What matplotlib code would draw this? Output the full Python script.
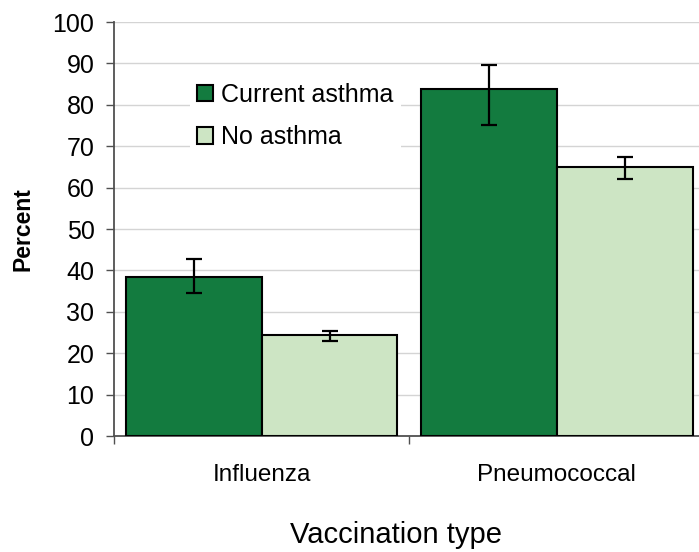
import numpy as np
import matplotlib
matplotlib.use("Agg")
import matplotlib.pyplot as plt

plt.rcParams['font.family'] = ['Liberation Sans', 'DejaVu Sans']

# Data
categories = ['Influenza', 'Pneumococcal']
asthma = [38.4, 83.8]
asthma_lo = [34.6, 75.2]
asthma_hi = [42.8, 89.7]
no_asthma = [24.5, 65.0]
no_asthma_lo = [23.0, 62.1]
no_asthma_hi = [25.5, 67.4]

dark = '#137B3F'
light = '#CDE5C4'

fig = plt.figure(figsize=(6.99, 5.52), dpi=100)
ax = fig.add_axes([0.163, 0.210, 0.845, 0.750])

x = np.arange(len(categories))
w = 0.46

a = np.array(asthma)
n = np.array(no_asthma)
a_err = [a - np.array(asthma_lo), np.array(asthma_hi) - a]
n_err = [n - np.array(no_asthma_lo), np.array(no_asthma_hi) - n]

ekw = dict(elinewidth=1.6, capthick=1.6, ecolor='black')
b1 = ax.bar(x - w / 2, a, w, color=dark, edgecolor='black', linewidth=1.5,
            yerr=a_err, capsize=5.5, error_kw=ekw, label='Current asthma', zorder=3)
b2 = ax.bar(x + w / 2, n, w, color=light, edgecolor='black', linewidth=1.5,
            yerr=n_err, capsize=5.5, error_kw=ekw, label='No asthma', zorder=3)

ax.set_xlim(-0.5, 1.5)
ax.set_ylim(0, 100)
ax.set_yticks(np.arange(0, 101, 10))
ax.yaxis.grid(True, color='#d4d4d4', linewidth=1.0, zorder=0)
ax.set_axisbelow(True)

ax.set_xticks(x)
ax.set_xticklabels(categories, fontsize=17.5)
ax.set_xticks([-0.5, 0.5, 1.5], minor=True)
ax.tick_params(axis='x', which='major', length=0, pad=20)
ax.tick_params(axis='x', which='minor', length=6, color='#505050', width=1)
ax.tick_params(axis='y', length=6, color='#505050', width=1, labelsize=18, pad=8)

for s in ['top', 'right']:
    ax.spines[s].set_visible(False)
for s in ['left', 'bottom']:
    ax.spines[s].set_color('#505050')
    ax.spines[s].set_linewidth(1.3)

ax.set_ylabel('Percent', fontsize=16.5, fontweight='bold', labelpad=13)
ax.set_xlabel('Vaccination type', fontsize=21, labelpad=25)
ax.xaxis.label.set_x(0.477)

leg = ax.legend(loc='upper left', bbox_to_anchor=(0.128, 0.872), fontsize=18,
                handlelength=0.62, handleheight=0.62, handletextpad=0.35,
                labelspacing=0.75, borderaxespad=0, borderpad=0.3,
                frameon=True, fancybox=False, framealpha=1,
                facecolor='white', edgecolor='none')

fig.savefig('out.png', dpi=100)
